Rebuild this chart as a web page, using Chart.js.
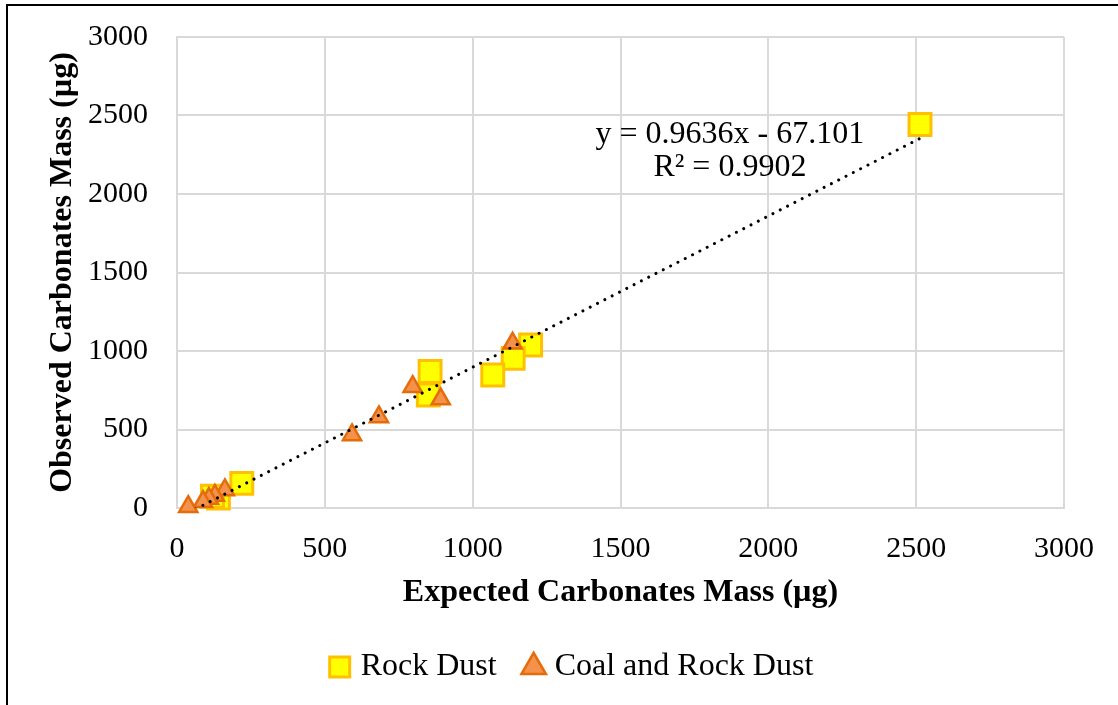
<!DOCTYPE html>
<html>
<head>
<meta charset="utf-8">
<title>Observed vs Expected Carbonates Mass</title>
<script src="https://cdn.jsdelivr.net/npm/chart.js@4/dist/chart.umd.min.js"></script>
<style>
  html, body { margin: 0; padding: 0; background: #fff; overflow: hidden; }
  #wrap { position: relative; width: 1118px; height: 705px; }
  #c { display: block; }
  #frame {
    position: absolute; left: 6px; top: 4px; right: -20px; bottom: -20px;
    border-top: 2px solid #000; border-left: 2px solid #000; pointer-events: none;
  }
</style>
</head>
<body>
<div id="wrap">
  <canvas id="c" width="1118" height="705" style="width:1118px;height:705px"></canvas>
  <div id="frame"></div>
</div>
<script>
// Rock dust samples (µg)
const rockExpected = [2513, 1196, 1137, 1068, 856, 850, 219, 140, 120];
const rockObserved = [2443, 1038, 953, 847, 869, 720, 157, 64, 75];

// Coal + rock dust samples (µg)
const coalExpected = [1135, 797, 892, 683, 592, 162, 128, 108, 88, 38];
const coalObserved = [1049, 773, 694, 580, 465, 115, 80, 60, 40, 8];

// Linear fit reported for the combined data
const fitSlope = 0.9636;
const fitIntercept = -67.101;
const fitR2 = 0.9902;

// Axis ticks (both axes)
const axisTicks = [0, 500, 1000, 1500, 2000, 2500, 3000];

const seriesNames = ['Rock Dust', 'Coal and Rock Dust'];

const toPoints = (xs, ys) => xs.map((v, i) => ({ x: v, y: ys[i] }));
const allExpected = rockExpected.concat(coalExpected);
const fitXmin = Math.min(...allExpected);
const fitXmax = Math.max(...allExpected);
const fitLine = [fitXmin, fitXmax].map(v => ({ x: v, y: fitSlope * v + fitIntercept }));

const serif = '"Liberation Serif", "Times New Roman", serif';
Chart.defaults.font.family = serif;
Chart.defaults.color = '#000';

// Shifts the bottom legend sideways after layout
const legendShift = {
  id: 'legendShift',
  afterLayout(chart, args, opts) {
    const lg = chart.legend;
    if (lg) { lg.left += opts.dx; lg.right += opts.dx; }
  }
};

// Writes the regression equation and R² next to the fit line
const fitLabel = {
  id: 'fitLabel',
  afterDatasetsDraw(chart, args, opts) {
    const { ctx, scales: { x, y } } = chart;
    const cx = x.getPixelForValue(opts.at[0]);
    const by = y.getPixelForValue(opts.at[1]);
    const sign = fitIntercept < 0 ? '-' : '+';
    ctx.save();
    ctx.font = '32px ' + serif;
    ctx.fillStyle = '#000';
    ctx.textAlign = 'center';
    ctx.textBaseline = 'alphabetic';
    ctx.fillText('y = ' + fitSlope + 'x ' + sign + ' ' + Math.abs(fitIntercept), cx, by);
    ctx.fillText('R² = ' + fitR2, cx, by + opts.lineGap);
    ctx.restore();
  }
};

const gridColor = '#D9D9D9';

function axis(titleText, titlePadding, tickGap, tickPadding, fit) {
  return {
    type: 'linear',
    min: 0,
    max: 3000,
    afterBuildTicks: s => { s.ticks = axisTicks.map(v => ({ value: v })); },
    afterFit: fit,
    grid: {
      color: gridColor,
      lineWidth: 2,
      drawTicks: tickGap > 0,
      tickLength: tickGap,
      tickColor: 'rgba(0,0,0,0)'
    },
    border: { color: gridColor, width: 2 },
    ticks: {
      padding: tickPadding,
      font: { size: 30, family: serif },
      color: '#000',
      callback: v => String(v)
    },
    title: {
      display: true,
      text: titleText,
      color: '#000',
      font: { size: 32, weight: 'bold', family: serif },
      padding: titlePadding
    }
  };
}

new Chart(document.getElementById('c'), {
  type: 'scatter',
  data: {
    datasets: [
      {
        label: seriesNames[0],
        data: toPoints(rockExpected, rockObserved),
        pointStyle: 'rect',
        pointRadius: 15.5,
        pointHoverRadius: 15.5,
        backgroundColor: '#FFFF00',
        borderColor: '#FFC000',
        borderWidth: 3,
        clip: false,
        order: 3
      },
      {
        label: seriesNames[1],
        data: toPoints(coalExpected, coalObserved),
        pointStyle: 'triangle',
        pointRadius: 10.5,
        pointHoverRadius: 10.5,
        backgroundColor: '#F4914A',
        borderColor: '#E46C0A',
        borderWidth: 2.5,
        clip: false,
        order: 2
      },
      {
        label: 'fit',
        data: fitLine,
        showLine: true,
        pointRadius: 0,
        pointHoverRadius: 0,
        borderColor: '#000',
        borderWidth: 3,
        borderDash: [0.01, 8.2],
        borderCapStyle: 'round',
        fill: false,
        order: 1
      }
    ]
  },
  options: {
    responsive: false,
    animation: false,
    events: [],
    layout: { padding: { top: 37, right: 54, bottom: 12, left: 0 } },
    scales: {
      x: axis('Expected Carbonates Mass (µg)', { top: 0, bottom: 7 }, 0, 23, s => { s.height = 111; }),
      y: axis('Observed Carbonates Mass (µg)', { top: 44, bottom: 0 }, 29, 0, s => { s.width = 177; })
    },
    plugins: {
      tooltip: { enabled: false },
      legend: {
        position: 'bottom',
        labels: {
          usePointStyle: true,
          boxWidth: 10,
          boxHeight: 20,
          padding: 32,
          color: '#000',
          font: { size: 32, family: serif },
          filter: item => item.datasetIndex < 2,
          sort: (a, b) => a.datasetIndex - b.datasetIndex
        }
      },
      legendShift: { dx: 42 },
      fitLabel: { at: [1870, 2325], lineGap: 33 }
    }
  },
  plugins: [legendShift, fitLabel]
});
</script>
</body>
</html>
